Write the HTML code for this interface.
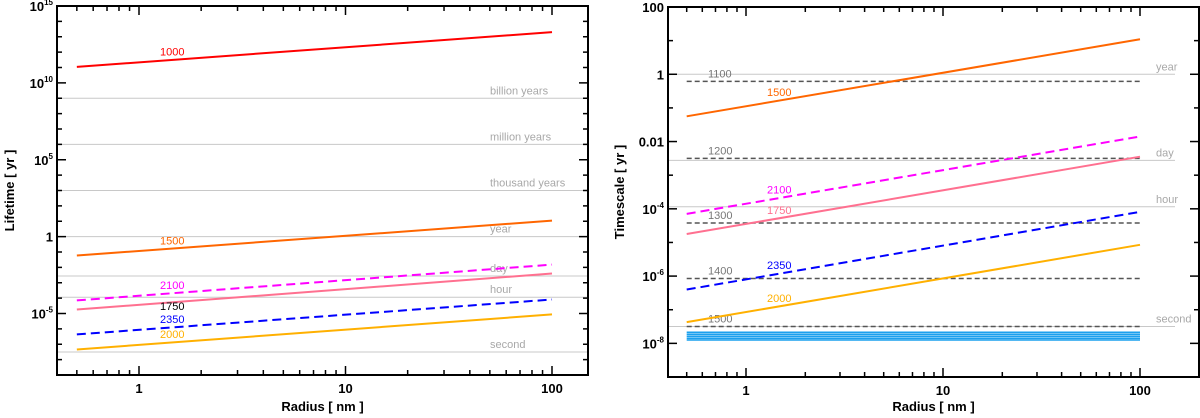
<!DOCTYPE html>
<html><head><meta charset="utf-8"><style>
html,body{margin:0;padding:0;background:#fff;width:1200px;height:418px;overflow:hidden}
svg{font-family:"Liberation Sans",sans-serif}
</style></head><body>
<svg id="c" width="1200" height="418" xmlns="http://www.w3.org/2000/svg"></svg>
<script>
const seriesNames = ['1000','1500','2100','1750','2350','2000'];
const leftStart = [11.04,-1.23,-4.15,-4.74,-6.36,-7.34];
const leftEnd = [13.3,1.04,-1.82,-2.4,-4.09,-5.06];
const rightNames = ['1500','2100','1750','2350','2000'];
const rightStart = [-1.25,-4.15,-4.75,-6.4,-7.37];
const rightEnd = [1.04,-1.85,-2.45,-4.09,-5.07];
const dashedNames = ['1100','1200','1300','1400','1500'];
const dashedVals = [-0.21,-2.5,-4.42,-6.07,-7.5];
const cyanVals = [-7.67,-7.73,-7.79,-7.85,-7.9];
const refLeftNames = ['billion years','million years','thousand years','year','day','hour','second'];
const refLeftVals = [9,6,3,0,-2.56,-3.94,-7.5];
const refRightNames = ['year','day','hour','second'];
const refRightVals = [0,-2.56,-3.94,-7.5];
const xRange = [Math.log10(0.5), 2];

const NS='http://www.w3.org/2000/svg';
const svg=document.getElementById('c');
function mk(tag,attrs,parent){const e=document.createElementNS(NS,tag);for(const k in attrs)e.setAttribute(k,attrs[k]);(parent||svg).appendChild(e);return e;}
function txt(s,attrs,parent){const e=mk('text',attrs,parent);e.textContent=s;return e;}

const colL={'1000':'#ff0000','1500':'#ff6600','2100':'#ff00ff','1750':'#ff7090','2350':'#0000ff','2000':'#ffb000'};
const dashL={'2100':1,'2350':1};

function panel(o){
  const g=mk('g',{});
  
  
  const X0=o.x0,X1=o.x1,Y0=o.y0,Y1=o.y1;
  const dec=(o.xdec);
  const sx=v=>o.xOne+(v)*dec;
  const sy=v=>Y1-(v-o.ymin)/(o.ymax-o.ymin)*(Y1-Y0);
  o.refNames.forEach((n,i)=>{
    const y=sy(o.refVals[i]);
    const l=mk('line',{x1:X0,x2:o.refEnd,y1:y,y2:y,stroke:'#c8c8c8','stroke-width':1},g);
    
    
    const t=txt(n,{x:o.refLabX,y:y-4,fill:'#a8a8a8','font-size':11},g);
    
    
  });
  if(o.extra)o.extra(g,sx,sy);
  o.names.forEach((n,i)=>{
    const a=sx(xRange[0]),b=sx(xRange[1]);
    const l=mk('line',{x1:a,x2:b,y1:sy(o.start[i]),y2:sy(o.end[i]),stroke:colL[n],'stroke-width':2},g);
    if(dashL[n])l.setAttribute('stroke-dasharray','9,5');
    
    
    const lx=o.labX, frac=(lx+15-a)/(b-a);
    const yy=sy(o.start[i]+(o.end[i]-o.start[i])*frac)-4+(o.labDy&&o.labDy[n]||0);
    const t=txt(n,{x:lx,y:yy,fill:(o.labCol&&o.labCol[n])||colL[n],'font-size':11},g);
    
    
  });
  const f=mk('rect',{x:X0,y:Y0,width:X1-X0,height:Y1-Y0,fill:'none',stroke:'#000','stroke-width':2},g);
  
  
  for(let d=-1;d<=2;d++)for(let m=1;m<10;m++){
    const v=d+Math.log10(m);
    if(v<xRange[0]-1e-9||v>xRange[1]+1e-9)continue;
    const x=sx(v),len=m===1?9:5;
    mk('line',{x1:x,x2:x,y1:Y1,y2:Y1-len,stroke:'#000','stroke-width':1.5},g);
    mk('line',{x1:x,x2:x,y1:Y0,y2:Y0+len,stroke:'#000','stroke-width':1.5},g);
    if(m===1){const t=txt(String(Math.pow(10,d)),{x:x,y:Y1+18,'text-anchor':'middle','font-size':13,'font-weight':'bold'},g);
      }
  }
  for(let v=Math.ceil(o.ymin);v<=o.ymax;v++){
    const y=sy(v),maj=(v%o.majStep===0),len=maj?9:5;
    mk('line',{x1:X0,x2:X0+len,y1:y,y2:y,stroke:'#000','stroke-width':1.5},g);
    mk('line',{x1:X1,x2:X1-len,y1:y,y2:y,stroke:'#000','stroke-width':1.5},g);
    if(maj){
      const t=o.fmt(v,X0-4,y+5,g);
      
    }
  }
  const xt=txt('Radius [ nm ]',{x:(X0+X1)/2,y:411,'text-anchor':'middle','font-size':13,'font-weight':'bold'},g);
  
  const yt=txt(o.ytitle,{x:0,y:0,transform:`translate(${o.ytx},${(Y0+Y1)/2}) rotate(-90)`,'text-anchor':'middle','font-size':13,'font-weight':'bold'},g);
  
}
function powFmt(v,x,y,g){
  if(v===0)return txt('1',{x:x,y:y,'text-anchor':'end','font-size':13,'font-weight':'bold'},g);
  const t=txt('',{x:x,y:y,'text-anchor':'end','font-size':13,'font-weight':'bold'},g);
  const a=document.createElementNS(NS,'tspan');a.textContent='10';t.appendChild(a);
  const b=document.createElementNS(NS,'tspan');b.textContent=String(v);b.setAttribute('dy','-6');b.setAttribute('font-size','8');t.appendChild(b);
  return t;
}
function rightFmt(v,x,y,g){
  if(v===0||v===2||v===-2){return txt(String(v===2?100:v===0?1:0.01),{x:x,y:y,'text-anchor':'end','font-size':13,'font-weight':'bold'},g);}
  return powFmt(v,x,y,g);
}
panel({name:'left-panel-lifetime',x0:57,x1:588,y0:6,y1:375,xOne:139,xdec:206.5,ymin:-9,ymax:15,majStep:5,
  names:seriesNames,start:leftStart,end:leftEnd,refNames:refLeftNames,refVals:refLeftVals,refEnd:588,refLabX:490,
  labX:160,labDy:{'1750':12},labCol:{'1750':'#000'},fmt:powFmt,ytitle:'Lifetime [ yr ]',ytx:14});
panel({name:'right-panel-timescale',x0:668,x1:1199,y0:7,y1:377,xOne:746,xdec:197,ymin:-9,ymax:2,majStep:2,
  names:rightNames,start:rightStart,end:rightEnd,refNames:refRightNames,refVals:refRightVals,refEnd:1175,refLabX:1156,
  labX:767,labDy:{},fmt:rightFmt,ytitle:'Timescale [ yr ]',ytx:624,
  extra:(g,sx,sy)=>{
    const a=sx(xRange[0]),b=sx(xRange[1]);
    cyanVals.forEach(v=>{const l=mk('line',{x1:a,x2:b,y1:sy(v),y2:sy(v),stroke:'#1aa0ee','stroke-width':1.6},g);
      });
    dashedNames.forEach((n,i)=>{const y=sy(dashedVals[i]);
      const l=mk('line',{x1:a,x2:b,y1:y,y2:y,stroke:'#555','stroke-width':1.5,'stroke-dasharray':'5,3'},g);
      
      const t=txt(n,{x:708,y:y-4,fill:'#777','font-size':11},g);
      });
  }});
</script>
</body></html>
